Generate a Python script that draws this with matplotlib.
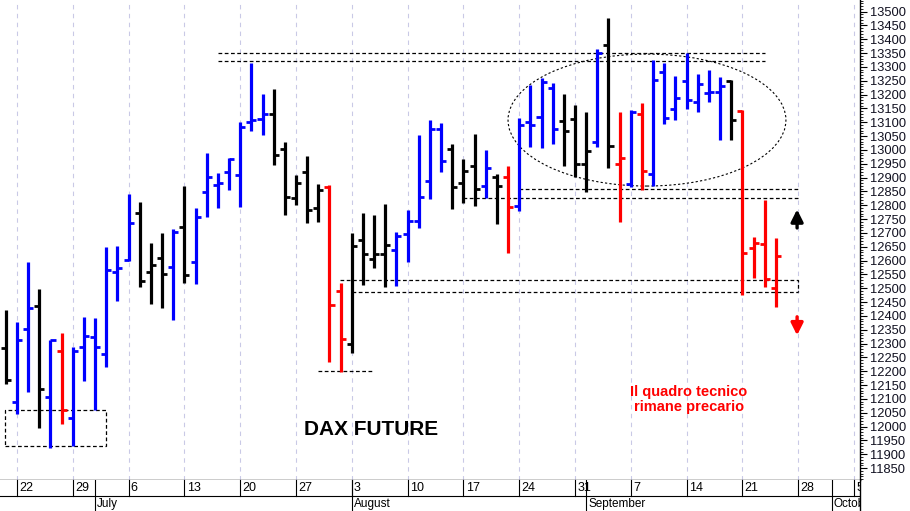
import matplotlib
matplotlib.use("Agg")
import matplotlib.pyplot as plt
from matplotlib.patches import Ellipse, Rectangle
from matplotlib.ticker import MultipleLocator
import pandas as pd

plt.rcParams['font.family'] = ['Liberation Sans', 'DejaVu Sans']

# ---------------- data (DAX future, daily OHLC) ----------------
dates = pd.bdate_range("2020-06-19", "2020-09-24")
opens = [12284, 12089, 12353, 12436, 12107, 12273, 12031, 12288, 12324, 12263,
         12559, 12602, 12772, 12559, 12610, 12577, 12722, 12595, 12848, 12873,
         12920, 12910, 13101, 13112, 13130, 13004, 12826, 12920, 12790, 12866,
         12490, 12299, 12675, 12606, 12624, 12639, 12696, 12743, 12888, 13076,
         13004, 12881, 12942, 12870, 12902, 12902, 12797, 13101, 13119, 13224,
         13105, 13112, 12949, 13029, 13380, 12949, 12877, 13130, 12913, 13282,
         13148, 13250, 13174, 13206, 13210, 13250, 13141, 12646, 12660, 12501]
highs = [12422, 12378, 12595, 12497, 12313, 12338, 12288, 12396, 12393, 12649,
         12653, 12841, 12812, 12664, 12700, 12714, 12870, 12790, 12989, 12917,
         12971, 13101, 13315, 13203, 13220, 13029, 12910, 12978, 12877, 12873,
         12519, 12700, 12772, 12765, 12805, 12704, 12783, 13054, 13109, 13098,
         13022, 12967, 13058, 13000, 12913, 12942, 13116, 13235, 13260, 13242,
         13203, 13163, 13137, 13365, 13477, 13137, 13145, 13170, 13325, 13315,
         13268, 13351, 13275, 13289, 13264, 13253, 13145, 12686, 12819, 12682]
lows = [12154, 12046, 12125, 11995, 11923, 12009, 11930, 12165, 12060, 12216,
        12454, 12599, 12505, 12443, 12429, 12385, 12519, 12516, 12758, 12790,
        12855, 12794, 13069, 13054, 12946, 12765, 12801, 12736, 12740, 12234,
        12197, 12266, 12512, 12573, 12505, 12508, 12595, 12718, 12823, 12920,
        12787, 12808, 12797, 12826, 12733, 12628, 12780, 13011, 13007, 13022,
        12942, 12902, 12848, 13011, 12935, 12740, 12866, 12855, 12870, 13094,
        13108, 13148, 13137, 13174, 13036, 13036, 12476, 12537, 12505, 12432]
closes = [12169, 12313, 12429, 12136, 12313, 12060, 12273, 12328, 12288, 12566,
          12573, 12736, 12526, 12584, 12552, 12704, 12548, 12758, 12902, 12881,
          12967, 13083, 13108, 13130, 12982, 12830, 12881, 12783, 12855, 12440,
          12317, 12653, 12624, 12624, 12657, 12689, 12743, 12830, 13076, 12960,
          12866, 12924, 12859, 12935, 12870, 12794, 13090, 13090, 13246, 13076,
          13069, 12949, 12996, 13351, 13015, 12971, 13137, 12924, 13253, 13116,
          13188, 13181, 13239, 13210, 13231, 13109, 12628, 12664, 12534, 12617]
signal = list("kbbkbrbbbbbbkkkbkbbbbbbbkkkkkrrkkkkbbbbbkkkbkrbbbbkkkbkrbrbbbbbbbkrrrr")

# annotation levels
resist_hi = [13350, 13320]
support_mid = [12858, 12826]
support_box = [12530, 12486]
low_line = 12201
box_low = [12060, 11930]

week_labels = ["22", "29", "6", "13", "20", "27", "3", "10", "17", "24", "31",
               "7", "14", "21", "28", "5"]
month_labels = ["July", "August", "September", "October"]

colmap = {"b": "#0000ff", "k": "#000000", "r": "#ff0000"}

# ---------------- positions (trading-day index, Mon 22 Jun = 0) ----------------
xs = list(range(-1, -1 + len(dates)))
all_days = pd.bdate_range("2020-06-22", "2020-10-09")
day_idx = {d: i for i, d in enumerate(all_days)}
mondays = [day_idx[d] for d in all_days if d.weekday() == 0]
month_starts = []
prev = None
for d in all_days:
    if d.month != prev:
        if prev is not None:
            month_starts.append(day_idx[d])
        prev = d.month

fig = plt.figure(figsize=(9.1, 5.11), dpi=100)
W, H = 910, 511
ax = fig.add_axes([0, 31 / H, 860 / W, 480 / H])
axb = fig.add_axes([0, 0, 860 / W, 31 / H])

xlo, xhi = -17 / 11.16, (860 - 17) / 11.16
ax.set_xlim(xlo, xhi)
ax.set_ylim(11807, 13542)

# vertical dashed grid
for m in mondays:
    ax.axvline(m, color="#c9c9e6", lw=0.8, ls=(0, (4, 4)), zorder=0)

# OHLC bars
tick = 0.45
for x, o, h, l, c, s in zip(xs, opens, highs, lows, closes, signal):
    col = colmap[s]
    ax.vlines(x, l, h, color=col, lw=2.3, zorder=3)
    ax.hlines(o, x - tick, x, color=col, lw=2.0, zorder=3)
    ax.hlines(c, x, x + tick, color=col, lw=2.0, zorder=3)

dash = dict(color="black", lw=0.9, ls=(0, (3, 2)), zorder=2)
ax.plot([18.0, 67.0], [resist_hi[0]] * 2, **dash)
ax.plot([18.0, 67.0], [resist_hi[1]] * 2, **dash)
ax.plot([45.0, 70.0], [support_mid[0]] * 2, **dash)
ax.plot([40.0, 70.0], [support_mid[1]] * 2, **dash)
ax.plot([28.9, 70.0, 70.0], [support_box[0], support_box[0], support_box[1]], **dash)
ax.plot([30.0, 70.0], [support_box[1]] * 2, **dash)
ax.plot([27.0, 31.9], [low_line] * 2, **dash)
ax.add_patch(Rectangle((-1.08, box_low[1]), 9.03, box_low[0] - box_low[1],
                       fill=False, ec="black", lw=0.9, ls=(0, (3, 2)), zorder=2))
ax.add_patch(Ellipse((56.45, 13108), 24.9, 477, fill=False, ec="black",
                     lw=0.8, ls=(0, (2, 2)), zorder=2))

# arrows
arrow_kw = dict(arrowstyle="-|>,head_width=0.3,head_length=0.6",
                lw=2.4, shrinkA=0, shrinkB=0, mutation_scale=12)
ax.annotate("", xy=(69.9, 12785), xytext=(69.9, 12718),
            arrowprops=dict(color="black", **arrow_kw), zorder=4)
ax.annotate("", xy=(69.9, 12330), xytext=(69.9, 12397),
            arrowprops=dict(color="#ff0000", **arrow_kw), zorder=4)

ax.text(31.7, 11991, "DAX FUTURE", fontsize=15, fontweight="bold",
        ha="center", va="center", color="black")
ax.text(60.2, 12098, "Il quadro tecnico\nrimane precario", fontsize=10.5,
        fontweight="bold", ha="center", va="center", color="#ff0000",
        linespacing=1.1)

# price axis on the right
ax.yaxis.tick_right()
ax.yaxis.set_major_locator(MultipleLocator(50))
ax.yaxis.set_minor_locator(MultipleLocator(10))
ax.tick_params(axis="y", which="major", length=5, width=0.8, labelsize=9.3,
               pad=2, labelcolor="#101020")
ax.tick_params(axis="y", which="minor", length=2.5, width=0.6)
ax.set_xticks([])
for sp in ["left", "top"]:
    ax.spines[sp].set_visible(False)
ax.spines["right"].set_linewidth(1.0)
ax.spines["bottom"].set_linewidth(1.0)

# date axis
axb.set_xlim(xlo, xhi)
axb.set_ylim(0, 1)
axb.set_xticks([])
axb.set_yticks([])
for sp in ["left", "top", "bottom"]:
    axb.spines[sp].set_visible(False)
axb.spines["right"].set_linewidth(1.0)
axb.axhline(0.5, color="black", lw=0.8)
for m, lab in zip(mondays, week_labels):
    axb.plot([m, m], [0.5, 1.0], color="black", lw=0.8)
    axb.text(m + 0.2, 0.75, lab, fontsize=9, ha="left", va="center", clip_on=True)
for m, lab in zip(month_starts, month_labels):
    axb.plot([m, m], [0, 1.0], color="black", lw=0.8)
    axb.text(m + 0.2, 0.24, lab, fontsize=8.5, ha="left", va="center", clip_on=True)

fig.savefig("out.png", dpi=100, facecolor="white")
